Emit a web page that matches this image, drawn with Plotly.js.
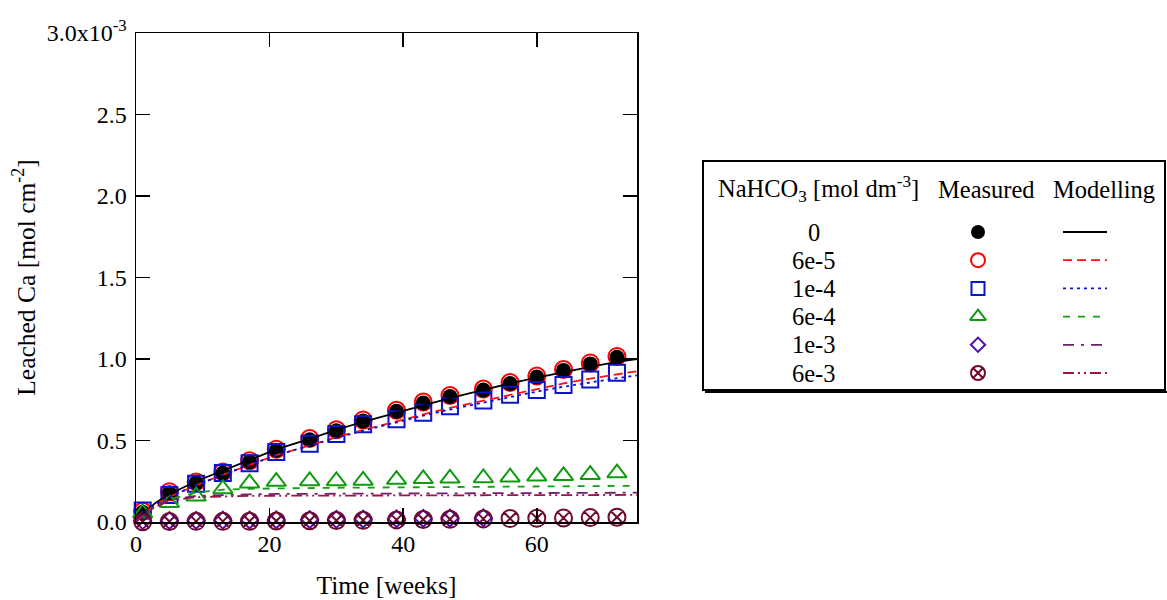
<!DOCTYPE html>
<html>
<head>
<meta charset="utf-8">
<script src="https://cdn.plot.ly/plotly-3.0.1.min.js"></script>
<style>html,body{margin:0;padding:0;background:#fff;}#chart{width:1167px;height:600px;}</style>
</head>
<body>
<div id="chart"></div>
<script>
// ---------- data (Leached Ca, mol cm^-2) ----------
var weeks = [1,5,9,13,17,21,26,30,34,39,43,47,52,56,60,64,68,72];
var meas0    = [0.060,0.180,0.240,0.300,0.370,0.440,0.505,0.560,0.620,0.680,0.730,0.770,0.810,0.850,0.890,0.930,0.970,1.010];
var meas6e5  = [0.066,0.186,0.246,0.306,0.376,0.446,0.512,0.566,0.626,0.686,0.736,0.776,0.816,0.856,0.896,0.936,0.976,1.016];
var meas1e4  = [0.070,0.165,0.235,0.300,0.360,0.430,0.480,0.540,0.600,0.630,0.670,0.710,0.745,0.780,0.810,0.840,0.875,0.915];
var meas6e4  = [0.055,0.118,0.158,0.203,0.238,0.248,0.252,0.252,0.255,0.260,0.265,0.268,0.270,0.275,0.280,0.283,0.290,0.300];
var weeks1e3 = [1,5,9,13,17,21,26,30,34,39,43,47,52];
var meas1e3  = [0.008,0.009,0.010,0.011,0.012,0.013,0.015,0.016,0.018,0.020,0.022,0.024,0.026];
var meas6e3  = [0.002,0.003,0.004,0.004,0.005,0.006,0.008,0.009,0.011,0.013,0.015,0.017,0.019,0.021,0.023,0.025,0.027,0.029];

var modelWeeks = [0,1,3,5,9,13,17,21,26,30,34,39,43,47,52,56,60,64,68,72,75];
var model0   = [0,0.050,0.120,0.170,0.250,0.315,0.380,0.445,0.510,0.565,0.615,0.672,0.718,0.760,0.810,0.850,0.885,0.920,0.952,0.982,1.000];
var model6e5 = [0,0.045,0.110,0.155,0.225,0.290,0.350,0.410,0.470,0.520,0.565,0.620,0.660,0.700,0.745,0.780,0.815,0.850,0.880,0.905,0.925];
var model1e4 = [0,0.045,0.110,0.155,0.225,0.290,0.350,0.410,0.468,0.517,0.560,0.613,0.652,0.690,0.733,0.767,0.800,0.830,0.858,0.882,0.900];
var model6e4 = [0,0.040,0.100,0.140,0.180,0.198,0.204,0.207,0.209,0.210,0.211,0.212,0.213,0.214,0.215,0.216,0.217,0.218,0.219,0.221,0.222];
var model1e3 = [0,0.040,0.100,0.135,0.160,0.167,0.170,0.172,0.173,0.174,0.175,0.176,0.177,0.177,0.178,0.178,0.179,0.179,0.180,0.180,0.180];
var model6e3 = [0,0.040,0.095,0.130,0.152,0.158,0.160,0.161,0.162,0.162,0.163,0.163,0.164,0.164,0.164,0.165,0.165,0.165,0.165,0.166,0.166];

var yTickVals = [0,0.5,1.0,1.5,2.0,2.5,3.0];
var yTickText = ['0.0','0.5','1.0','1.5','2.0','2.5','3.0x10<sup>-3</sup>'];
var xTickVals = [0,20,40,60];

var legendLabels = ['0','6e-5','1e-4','6e-4','1e-3','6e-3'];
var legendHeader = ['NaHCO<sub>3</sub> [mol dm<sup>-3</sup>]','Measured','Modelling'];

// ---------- styles ----------
var FONT = 'Liberation Serif, Times New Roman, serif';
var scale = 1e-3;
function sc(a){ return a.map(function(v){ return v*scale; }); }

var series = [
  {meas: meas6e5, x: weeks,    sym: 'circle-open',       col: '#ff0000', size: 17, lw: 2},
  {meas: meas0,   x: weeks,    sym: 'circle',            col: '#000000', size: 15, lw: 0},
  {meas: meas1e4, x: weeks,    sym: 'square-open',       col: '#0a14c8', size: 16, lw: 2},
  {meas: meas6e4, x: weeks,    sym: 'triangle-up-open',  col: '#109a10', size: 17, lw: 2},
  {meas: meas1e3, x: weeks1e3, sym: 'diamond-open',      col: '#5010b0', size: 13, lw: 2},
  {meas: meas6e3, x: weeks,    sym: 'circle-x-open',     col: '#6e0a2c', size: 17, lw: 2}
];
var models = [
  {y: model0,   col: '#000000', dash: 'solid'},
  {y: model6e5, col: '#ff1010', dash: '9px,5px'},
  {y: model1e4, col: '#1010d0', dash: '3px,4px'},
  {y: model6e4, col: '#10a010', dash: '7px,8px'},
  {y: model1e3, col: '#6e2070', dash: '11px,7px,3px,7px'},
  {y: model6e3, col: '#a0104a', dash: '11px,4px,2px,4px,2px,4px'}
];

var traces = [];
series.forEach(function(s){
  traces.push({x: s.x, y: sc(s.meas), type: 'scatter', mode: 'markers', cliponaxis: false,
    marker: {symbol: s.sym, size: s.size, color: s.col, line: {color: s.col, width: s.lw}},
    showlegend: false, hoverinfo: 'skip'});
});
models.forEach(function(m){
  traces.push({x: modelWeeks, y: sc(m.y), type: 'scatter', mode: 'lines',
    line: {color: m.col, width: 1.8, dash: m.dash}, showlegend: false, hoverinfo: 'skip'});
});

// ---------- table legend (pixel-space overlay axes x2/y2) ----------
var W = 1167, H = 600;
var rowTop = 232, rowStep = 28.2;
var colLabel = 814, colMarker = 978, lineX0 = 1063, lineX1 = 1107;
var legendOrder = [1,0,2,3,4,5]; // series index for each legend row (0, 6e-5, ...)
var annotations = [];
var headerX = [818, 986, 1104];
legendHeader.forEach(function(t, i){
  annotations.push({xref: 'x2', yref: 'y2', x: headerX[i], y: 189, text: t, showarrow: false,
    xanchor: 'center', yanchor: 'middle', font: {family: FONT, size: 24.5, color: '#000'}});
});
legendLabels.forEach(function(lab, i){
  var yy = rowTop + i*rowStep;
  annotations.push({xref: 'x2', yref: 'y2', x: colLabel, y: yy, text: lab, showarrow: false,
    xanchor: 'center', yanchor: 'middle', font: {family: FONT, size: 24.5, color: '#000'}});
  var s = series[legendOrder[i]];
  var legSize = {circle: 14, 'circle-open': 14, 'square-open': 13, 'triangle-up-open': 14, 'diamond-open': 11, 'circle-x-open': 14}[s.sym];
  traces.push({x: [colMarker], y: [yy], xaxis: 'x2', yaxis: 'y2', type: 'scatter', mode: 'markers', cliponaxis: false,
    marker: {symbol: s.sym, size: legSize, color: s.col, line: {color: s.col, width: s.lw}},
    showlegend: false, hoverinfo: 'skip'});
  var m = models[i];
  traces.push({x: [lineX0, lineX1], y: [yy, yy], xaxis: 'x2', yaxis: 'y2', type: 'scatter', mode: 'lines', cliponaxis: false,
    line: {color: m.col, width: 1.8, dash: m.dash}, showlegend: false, hoverinfo: 'skip'});
});

var shapes = [
  {type: 'rect', xref: 'x2', yref: 'y2', x0: 703, x1: 1165, y0: 161, y1: 390, line: {color: '#000', width: 2}},
  {type: 'line', xref: 'x2', yref: 'y2', x0: 705, x1: 1167, y0: 392, y1: 392, line: {color: '#000', width: 2}}
];

var axisCommon = {showgrid: false, zeroline: false, showline: true, linecolor: '#000', linewidth: 1.5,
  ticks: 'inside', ticklen: 14, tickwidth: 1.5, tickcolor: '#000', mirror: 'ticks',
  tickfont: {family: FONT, size: 24, color: '#000'}, automargin: false, fixedrange: true};

var layout = {
  width: W, height: H,
  margin: {l: 0, r: 0, t: 0, b: 0},
  paper_bgcolor: '#fff', plot_bgcolor: 'rgba(0,0,0,0)',
  font: {family: FONT, color: '#000'},
  showlegend: false,
  xaxis: Object.assign({}, axisCommon, {
    domain: [136/W, 637/W], range: [0, 75], tickmode: 'array', tickvals: xTickVals,
    ticktext: xTickVals.map(String), anchor: 'y',
    title: {text: 'Time [weeks]', font: {family: FONT, size: 25.5, color: '#000'}, standoff: 25}
  }),
  yaxis: Object.assign({}, axisCommon, {
    domain: [78/H, 567/H], range: [0, 3.0*scale], tickmode: 'array',
    tickvals: sc(yTickVals), ticktext: yTickText, anchor: 'x', ticklabelstandoff: 3,
    title: {text: 'Leached Ca [mol cm<sup>-2</sup>]', font: {family: FONT, size: 25.5, color: '#000'}, standoff: 4}
  }),
  xaxis2: {domain: [0, 1], range: [0, W], visible: false, anchor: 'y2', fixedrange: true},
  yaxis2: {domain: [0, 1], range: [H, 0], visible: false, anchor: 'x2', fixedrange: true},
  annotations: annotations,
  shapes: shapes
};

Plotly.newPlot('chart', traces, layout, {staticPlot: true, displayModeBar: false});
</script>
</body>
</html>
